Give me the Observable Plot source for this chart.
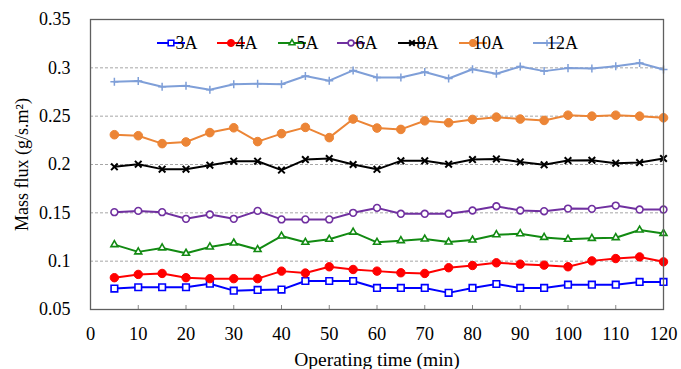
<!DOCTYPE html>
<html><head><meta charset="utf-8">
<script src="https://cdn.jsdelivr.net/npm/d3@7"></script>
<script src="https://cdn.jsdelivr.net/npm/@observablehq/plot@0.6"></script>
<style>
body{margin:0;background:#fff}
#chart{position:relative;width:681px;height:369px}
</style>
</head><body><div id="chart"></div>
<script>
// ---- data ----
const times = [5,10,15,20,25,30,35,40,45,50,55,60,65,70,75,80,85,90,95,100,105,110,115,120];
const seriesNames = ["3A","4A","5A","6A","8A","10A","12A"];
const flux3A = [0.0716,0.073,0.073,0.073,0.0767,0.0695,0.0702,0.0706,0.0795,0.0795,0.0795,0.0723,0.0723,0.0723,0.0672,0.0723,0.0764,0.0723,0.0723,0.0757,0.0757,0.0757,0.0785,0.0785];
const flux4A = [0.0829,0.0863,0.0873,0.0829,0.0819,0.0819,0.0819,0.0897,0.0877,0.0942,0.0914,0.0897,0.088,0.0873,0.0932,0.0955,0.0983,0.0969,0.0959,0.0942,0.1003,0.1027,0.1044,0.0993];
const flux5A = [0.1171,0.1096,0.1137,0.1082,0.1147,0.1188,0.112,0.126,0.1195,0.1226,0.130,0.1195,0.1212,0.1229,0.1198,0.1219,0.1274,0.1284,0.1246,0.1226,0.1236,0.1243,0.1322,0.1287];
const flux6A = [0.1507,0.152,0.1507,0.1438,0.1483,0.1438,0.152,0.1432,0.1432,0.1432,0.150,0.1551,0.149,0.149,0.149,0.1524,0.1568,0.1524,0.1517,0.1544,0.1541,0.1575,0.1534,0.1534];
const flux8A = [0.1976,0.2003,0.1952,0.1952,0.1993,0.2034,0.2034,0.1942,0.2051,0.2062,0.200,0.195,0.2038,0.2038,0.2003,0.2051,0.2058,0.2027,0.1997,0.2041,0.2044,0.2014,0.202,0.2062];
const flux10A = [0.2308,0.2298,0.2216,0.2233,0.233,0.238,0.2237,0.2319,0.2384,0.2278,0.247,0.2377,0.2363,0.2452,0.2432,0.2466,0.249,0.247,0.2456,0.251,0.25,0.251,0.25,0.2483];
const flux12A = [0.2856,0.2863,0.2805,0.2815,0.2774,0.283,0.2836,0.283,0.2915,0.2867,0.2973,0.290,0.290,0.2956,0.289,0.2985,0.2938,0.3014,0.2966,0.2997,0.2993,0.3017,0.305,0.2983];
const yTicks = [0.05,0.1,0.15,0.2,0.25,0.3,0.35];
const yTickLabels = ["0.05","0.1","0.15","0.2","0.25","0.3","0.35"];
const gridValues = [0.1,0.15,0.2,0.25,0.3];
const xTicks = [0,10,20,30,40,50,60,70,80,90,100,110,120];
const xLabel = "Operating time (min)";
const yLabel = "Mass flux (g/s.m²)";

// ---- styles ----
const allFlux = [flux3A,flux4A,flux5A,flux6A,flux8A,flux10A,flux12A];
const styles = {
  "3A": {color:"#0000FF", symbol:"square2", fill:"white", r:4.2, sw:1.6},
  "4A": {color:"#FF0000", symbol:"circle", fill:"#FF0000", r:4.2, sw:1},
  "5A": {color:"#128A12", symbol:"triangle2", fill:"white", r:3.3, sw:1.6},
  "6A": {color:"#7030A0", symbol:"circle", fill:"white", r:3.4, sw:1.6},
  "8A": {color:"#000000", symbol:"times", fill:"none", r:3.1, sw:2},
  "10A": {color:"#EC8536", symbol:"circle", fill:"#EC8536", r:4.3, sw:1},
  "12A": {color:"#7F9FD8", symbol:"plus", fill:"none", r:2.7, sw:1.5}
};
const font = "Liberation Serif";
const W = 681, H = 369, mL = 90, mR = 18, mT = 19, mB = 60;

const rows = seriesNames.flatMap((name, i) =>
  times.map((t, j) => ({series: name, time: t, flux: allFlux[i][j]})));

const seriesMarks = seriesNames.flatMap(name => {
  const st = styles[name];
  const data = rows.filter(d => d.series === name);
  return [
    Plot.line(data, {x: "time", y: "flux", stroke: st.color, strokeWidth: 2}),
    Plot.dot(data, {x: "time", y: "flux", symbol: () => st.symbol, r: st.r,
      stroke: st.color, fill: st.fill, strokeWidth: st.sw})
  ];
});

const chart = Plot.plot({
  width: W, height: H,
  marginLeft: mL, marginRight: mR, marginTop: mT, marginBottom: mB,
  style: "font-family: 'Liberation Serif'; font-size: 18px; background: white; color: #000;",
  x: {domain: [0, 120]},
  y: {domain: [0.05, 0.35]},
  symbol: {type: "identity"},
  marks: [
    Plot.gridY(gridValues, {stroke: "#a6a6a6", strokeOpacity: 1, strokeDasharray: "3,2"}),
    Plot.ruleX(xTicks, {x: d => d, stroke: "#888", insetTop: H - mT - mB - 4}),
    Plot.axisY({ticks: yTicks, tickFormat: d => yTickLabels[yTicks.indexOf(d)], tickSize: 0, tickPadding: 20, label: null, fontSize: 18, fontFamily: font}),
    Plot.axisX({ticks: xTicks, tickSize: 0, tickPadding: 17, label: null, fontSize: 18.5, fontFamily: font}),
    Plot.text([xLabel], {frameAnchor: "bottom", dy: 56, fontSize: 19.5, fontFamily: font, text: d => d}),
    Plot.text([yLabel], {frameAnchor: "left", rotate: -90, dx: -68, textAnchor: "middle", fontSize: 18, fontFamily: font, text: d => d}),
    ...seriesMarks,
    Plot.frame({stroke: "#5f5f5f", strokeWidth: 1.3})
  ]
});
chart.setAttribute("font-family", font);
document.getElementById("chart").appendChild(chart);

// ---- legend (inside plot, top) ----
const legendX = [157, 217, 278, 337, 398, 459, 533];
const legendY = 43;
const svg = d3.select(chart);
const lg = svg.append("g").attr("font-size", 18).attr("font-family", font);
const symbolMap = {square2: d3.symbolSquare2, circle: d3.symbolCircle, triangle2: d3.symbolTriangle2, times: d3.symbolTimes, plus: d3.symbolPlus};
seriesNames.forEach((name, i) => {
  const st = styles[name];
  const x0 = legendX[i];
  const g = lg.append("g").attr("transform", `translate(${x0},${legendY})`);
  g.append("line").attr("x1", 0).attr("x2", 28).attr("y1", 0).attr("y2", 0)
    .attr("stroke", st.color).attr("stroke-width", 2);
  const rr = st.r * 0.85;
  g.append("path").attr("transform", "translate(14,0)")
    .attr("d", d3.symbol(symbolMap[st.symbol], Math.PI * rr * rr)())
    .attr("stroke", st.color).attr("fill", st.fill).attr("stroke-width", st.sw);
  g.append("text").attr("x", 29.5).attr("y", 0).attr("dy", "0.35em").attr("font-family", font).text(name);
});
</script></body></html>
